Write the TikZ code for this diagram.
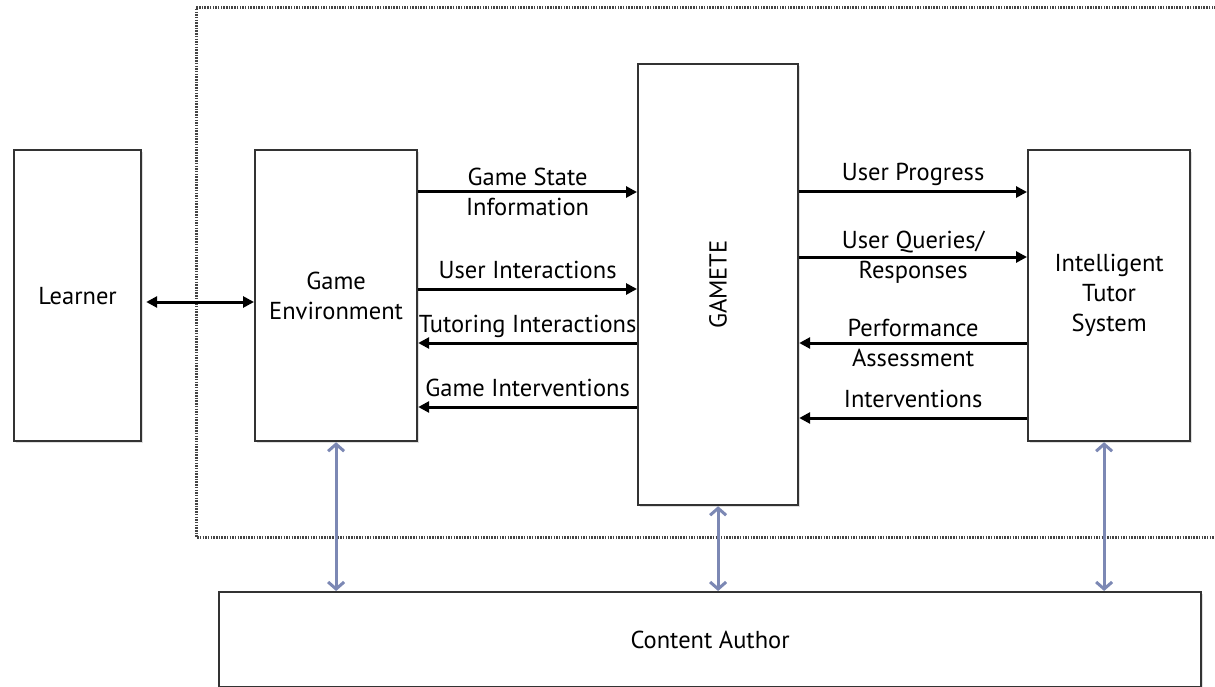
\documentclass[tikz,border=0pt]{standalone}
\usepackage{fontspec}
\setmainfont{PT Sans}
\usetikzlibrary{arrows.meta,shadows,calc}
\definecolor{boxline}{HTML}{333333}
\definecolor{linkblue}{HTML}{7C88B4}
\definecolor{dotgray}{HTML}{444444}
\begin{document}
\begin{tikzpicture}[x=1pt,y=-1pt,
  font=\fontsize{24.5}{30}\selectfont,
  box/.style={draw=boxline, line width=2.2pt, fill=white, align=center, inner sep=0pt,
    drop shadow={shadow xshift=2pt, shadow yshift=-2pt, opacity=0.25}},
  flow/.style={line width=3pt, -{Triangle[length=11pt,width=11pt]}},
  biflow/.style={line width=3pt, {Triangle[length=11pt,width=11pt]}-{Triangle[length=11pt,width=11pt]}},
  link/.style={draw=linkblue, line width=3pt,
    {Straight Barb[length=7pt,width=16pt,line width=3pt]}-{Straight Barb[length=7pt,width=16pt,line width=3pt]}},
  lbl/.style={align=center, inner sep=0pt},
  frame/.style={draw=dotgray, line width=3pt, dash pattern=on 1.5pt off 1.2pt}]
\useasboundingbox (0,0) rectangle (1215,687);
% dotted system boundary
\draw[frame] (1240,8) -- (196,8) -- (196,537) -- (1240,537);
% boxes
\node[box, anchor=north west, minimum width=127pt, minimum height=291pt] (learner) at (13,149) {Learner};
\node[box, anchor=north west, minimum width=162pt, minimum height=291pt] (game) at (254,149) {Game\\Environment};
\node[box, anchor=north west, minimum width=160pt, minimum height=441pt] (gamete) at (637,63) {\rotatebox{90}{GAMETE}};
\node[box, anchor=north west, minimum width=162pt, minimum height=291pt] (its) at (1027,149) {Intelligent\\Tutor\\System};
\node[box, anchor=north west, minimum width=982pt, minimum height=95pt] (author) at (218,591) {Content Author};
% learner <-> game
\draw[biflow, shorten <=4pt] (learner.east |- {0,302}) -- (game.west |- {0,302});
% game <-> gamete
\draw[flow] (game.east |- {0,192}) -- (gamete.west |- {0,192})
  node[lbl, midway] {Game State\\Information};
\draw[flow] (game.east |- {0,289}) -- (gamete.west |- {0,289})
  node[lbl, midway, anchor=base, yshift=11pt] {User Interactions};
\draw[flow] (gamete.west |- {0,343}) -- (game.east |- {0,343})
  node[lbl, midway, anchor=base, yshift=11pt] {Tutoring Interactions};
\draw[flow] (gamete.west |- {0,407}) -- (game.east |- {0,407})
  node[lbl, midway, anchor=base, yshift=11pt] {Game Interventions};
% gamete <-> its
\draw[flow] (gamete.east |- {0,192}) -- (its.west |- {0,192})
  node[lbl, midway, anchor=base, yshift=11pt] {User Progress};
\draw[flow] (gamete.east |- {0,257}) -- (its.west |- {0,257})
  node[lbl, midway] {User Queries/\\Responses};
\draw[flow] (its.west |- {0,343}) -- (gamete.east |- {0,343})
  node[lbl, midway] {Performance\\Assessment};
\draw[flow] (its.west |- {0,418}) -- (gamete.east |- {0,418})
  node[lbl, midway, anchor=base, yshift=11pt] {Interventions};
% content author links
\draw[link] (game.south) -- (game.south |- author.north);
\draw[link] (gamete.south) -- (gamete.south |- author.north);
\draw[link] ([xshift=-5pt]its.south) -- ([xshift=-5pt]its.south |- author.north);
\end{tikzpicture}
\end{document}
